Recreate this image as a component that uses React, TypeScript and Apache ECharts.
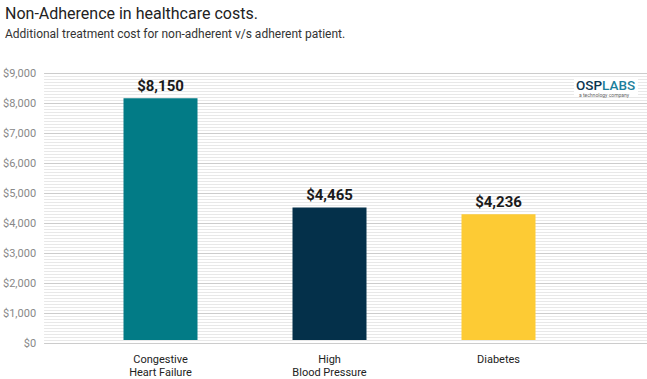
import React, { useEffect, useRef } from "react";
import * as echarts from "echarts";

const categories = ["Congestive\nHeart Failure", "High\nBlood Pressure", "Diabetes"];
const costs = [8150, 4465, 4236];
const barColors = ["#027B86", "#04304A", "#FDCB34"];
const yMin = 0;
const yMax = 9000;
const yInterval = 1000;

export default function App() {
  const ref = useRef<HTMLDivElement>(null);
  useEffect(() => {
    document.body.style.margin = "0";
    if (!ref.current) return;
    const chart = echarts.init(ref.current, null, { renderer: "svg" });
    const font = "Roboto, 'Noto Sans', sans-serif";
    chart.setOption({
      animation: false,
      backgroundColor: "#ffffff",
      textStyle: { fontFamily: font },
      title: [
        {
          text: "Non-Adherence in healthcare costs.",
          left: 0,
          top: 0,
          textStyle: { fontSize: 16, fontWeight: "normal", color: "#222222", fontFamily: font },
        },
        {
          text: "Additional treatment cost for non-adherent v/s adherent patient.",
          left: 0,
          top: 23,
          textStyle: { fontSize: 12, fontWeight: "normal", color: "#333333", fontFamily: font },
        },
      ],
      grid: [
        { left: 43, right: 0, top: 73, bottom: 36 },
        { left: 76, right: 64, top: 73, bottom: 36 },
      ],
      xAxis: [
        { type: "category", gridIndex: 0, data: categories, show: false },
        {
          type: "category",
          gridIndex: 1,
          data: categories,
          axisLine: { show: false },
          axisTick: { show: false },
          axisLabel: { color: "#222222", fontSize: 11, margin: 13, lineHeight: 13, fontFamily: font },
        },
      ],
      yAxis: [
        {
          type: "value",
          gridIndex: 0,
          min: yMin,
          max: yMax,
          interval: yInterval,
          axisLine: { show: false },
          axisTick: { show: false },
          axisLabel: {
            color: "#888888",
            fontSize: 11,
            margin: 8,
            fontFamily: font,
            formatter: (v: number) => "$" + v.toLocaleString("en-US"),
          },
          splitLine: { show: true, lineStyle: { color: "#cccccc", width: 1 } },
          minorTick: { show: false, splitNumber: 10 },
          minorSplitLine: { show: true, lineStyle: { color: "#e8e8e8", width: 1 } },
        },
        {
          type: "value",
          gridIndex: 1,
          min: yMin,
          max: yMax,
          interval: yInterval,
          show: false,
          splitLine: { show: false },
        },
      ],
      series: [
        {
          type: "bar",
          xAxisIndex: 1,
          yAxisIndex: 1,
          barWidth: 74,
          data: costs.map((v, i) => ({ value: v, itemStyle: { color: barColors[i] } })),
          label: {
            show: true,
            position: "top",
            distance: 5,
            color: "#1a1a1a",
            fontSize: 15,
            fontWeight: "bold",
            fontFamily: font,
            formatter: (p: any) => "$" + Number(p.value).toLocaleString("en-US"),
          },
        },
      ],
      graphic: [
        {
          type: "rect",
          left: 574,
          top: 77,
          shape: { width: 64, height: 20 },
          style: { fill: "#ffffff" },
          z: 10,
        },
        {
          type: "text",
          left: 576,
          top: 78,
          z: 11,
          style: {
            text: "{a|OSP}{b|LABS}",
            rich: {
              a: { fill: "#0B3550", fontSize: 13.5, fontWeight: 500, fontFamily: font },
              b: { fill: "#1C7F9C", fontSize: 13.5, fontWeight: 500, fontFamily: font },
            },
          },
        },
        {
          type: "text",
          left: 579,
          top: 92,
          z: 11,
          style: { text: "a technology company", fill: "#666666", fontSize: 5, fontFamily: font },
        },
      ],
    });
    return () => chart.dispose();
  }, []);
  return <div ref={ref} style={{ width: 647, height: 379 }} />;
}
